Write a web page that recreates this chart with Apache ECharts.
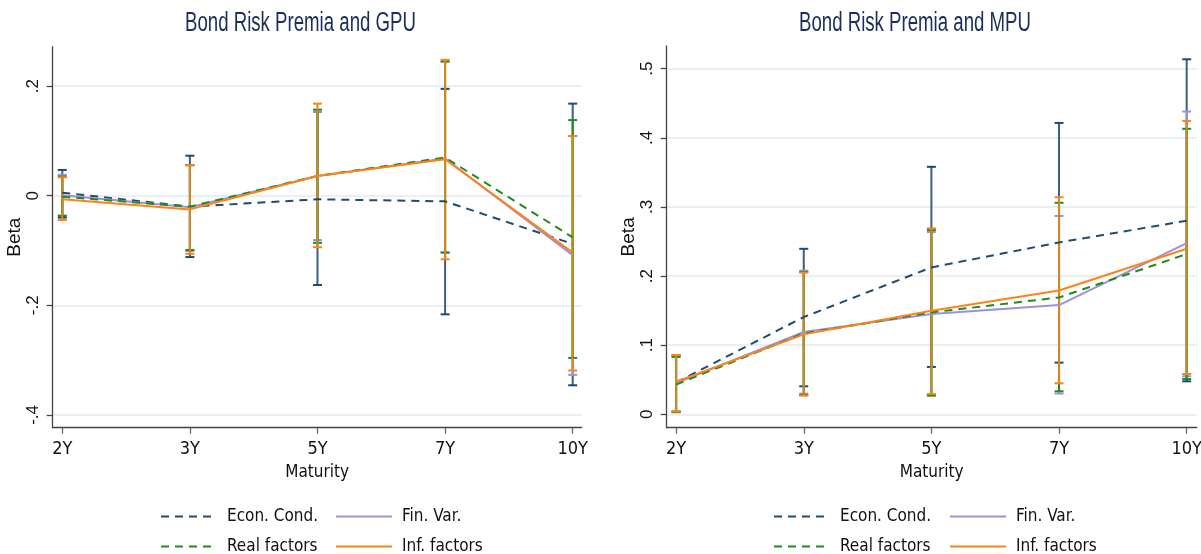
<!DOCTYPE html>
<html><head><meta charset="utf-8">
<script src="https://cdn.jsdelivr.net/npm/echarts@6/dist/echarts.min.js"></script>
<style>html,body{margin:0;padding:0;background:#fff}#c{width:1201px;height:554px}</style>
</head><body><div id="c"></div>
<script>
const maturities = ['2Y','3Y','5Y','7Y','10Y'];
const seriesNames = ['Econ. Cond.','Fin. Var.','Real factors','Inf. factors'];
const titles = ['Bond Risk Premia and GPU','Bond Risk Premia and MPU'];
const gpuTicks = [-0.4,-0.2,0,0.2];
const mpuTicks = [0,0.1,0.2,0.3,0.4,0.5];

// GPU panel
const gpuEcon   = [0.0055,-0.020,-0.0066,-0.0103,-0.088];
const gpuEconLo = [-0.040,-0.112,-0.163,-0.2165,-0.346];
const gpuEconHi = [0.047,0.073,0.153,0.195,0.168];
const gpuFin    = [0.001,-0.021,0.036,0.068,-0.1085];
const gpuFinLo  = [-0.036,-0.101,-0.081,-0.104,-0.327];
const gpuFinHi  = [0.038,0.056,0.153,0.245,0.109];
const gpuReal   = [-0.002,-0.020,0.036,0.0696,-0.076];
const gpuRealLo = [-0.037,-0.099,-0.086,-0.1036,-0.296];
const gpuRealHi = [0.035,0.0556,0.157,0.245,0.138];
const gpuInf    = [-0.0066,-0.025,0.036,0.0666,-0.104];
const gpuInfLo  = [-0.0445,-0.106,-0.094,-0.116,-0.319];
const gpuInfHi  = [0.0336,0.0556,0.168,0.248,0.1087];

// MPU panel
const mpuEcon   = [0.046,0.1407,0.2125,0.2486,0.280];
const mpuEconLo = [0.004,0.0405,0.0685,0.0747,0.0477];
const mpuEconHi = [0.085,0.2394,0.358,0.4215,0.5136];
const mpuFin    = [0.045,0.119,0.145,0.158,0.2477];
const mpuFinLo  = [0.004,0.0299,0.028,0.030,0.055];
const mpuFinHi  = [0.085,0.2077,0.2636,0.287,0.438];
const mpuReal   = [0.043,0.117,0.1474,0.169,0.2318];
const mpuRealLo = [0.003,0.028,0.027,0.0333,0.051];
const mpuRealHi = [0.083,0.206,0.2665,0.306,0.413];
const mpuInf    = [0.047,0.1156,0.1499,0.179,0.2394];
const mpuInfLo  = [0.004,0.027,0.0294,0.0448,0.0583];
const mpuInfHi  = [0.0858,0.205,0.269,0.314,0.4244];

const NARROW = "'DejaVu Sans Condensed','Liberation Sans Narrow',sans-serif";
const SANS = "'Liberation Sans',Arial,sans-serif";
const colors = ['#1f4a72','#9b91dd','#1e8c1e','#ff8217'];
const barColors = ['#3a5f85','#9b91dd','#1e8c1e','#d38a1c'];
const dashed = [true,false,true,false];

function fmtTick(v){ if (v===0) return '0'; return String(Math.round(v*10)/10).replace('0.','.'); }

function errRender(capColor, lineColor){
  return function(params, api){
    const x = api.value(0);
    const lo = api.coord([x, api.value(1)]);
    const hi = api.coord([x, api.value(2)]);
    const w = 4.5;
    const st = {stroke: capColor, lineWidth: 2};
    return {type:'group', children:[
      {type:'line', shape:{x1:lo[0],y1:lo[1],x2:hi[0],y2:hi[1]}, style:{stroke:lineColor,lineWidth:2}},
      {type:'line', shape:{x1:lo[0]-w,y1:lo[1],x2:lo[0]+w,y2:lo[1]}, style:st},
      {type:'line', shape:{x1:hi[0]-w,y1:hi[1],x2:hi[0]+w,y2:hi[1]}, style:st}
    ]};
  };
}

const panels = [
  {mid:[gpuEcon,gpuFin,gpuReal,gpuInf], lo:[gpuEconLo,gpuFinLo,gpuRealLo,gpuInfLo], hi:[gpuEconHi,gpuFinHi,gpuRealHi,gpuInfHi]},
  {mid:[mpuEcon,mpuFin,mpuReal,mpuInf], lo:[mpuEconLo,mpuFinLo,mpuRealLo,mpuInfLo], hi:[mpuEconHi,mpuFinHi,mpuRealHi,mpuInfHi]}
];

const series = [];
panels.forEach((p, gi) => {
  for (let k=0;k<4;k++){
    series.push({
      type:'custom', name:'err'+gi+k, xAxisIndex:gi, yAxisIndex:gi,
      renderItem: errRender(colors[k], barColors[k]),
      encode:{x:0, y:[1,2]},
      data: maturities.map((m,i)=>[i, p.lo[k][i], p.hi[k][i]]),
      silent:true, z:2
    });
  }
  for (let k=0;k<4;k++){
    series.push({
      type:'line', name:seriesNames[k], xAxisIndex:gi, yAxisIndex:gi,
      data: maturities.map((m,i)=>[i, p.mid[k][i]]),
      symbol:'none', color:colors[k],
      lineStyle:{color:colors[k], width:2, type: dashed[k] ? [8,6] : 'solid'},
      z:3
    });
  }
});

function xAx(gi, min, max){
  return {
    type:'value', gridIndex:gi, min:min, max:max,
    name:'Maturity', nameLocation:'middle', nameGap:36,
    nameTextStyle:{fontFamily:NARROW, fontSize:17, color:'#111'},
    axisLine:{show:true, onZero:false, lineStyle:{color:'#444', width:1.3}},
    axisTick:{show:true, length:6, customValues:[0,1,2,3,4], lineStyle:{color:'#666', width:1.3}},
    axisLabel:{customValues:[0,1,2,3,4], formatter:v=>maturities[Math.round(v)], margin:13,
      alignMinLabel:'center', alignMaxLabel:'center', hideOverlap:false,
      fontFamily:NARROW, fontSize:18, color:'#111'},
    splitLine:{show:false}
  };
}
function yAx(gi, min, max, ticks){
  return {
    type:'value', gridIndex:gi, min:min, max:max,
    name:'Beta', nameLocation:'middle', nameGap:26, nameRotate:90,
    nameTextStyle:{fontFamily:SANS, fontSize:19, color:'#111'},
    axisLine:{show:true, onZero:false, lineStyle:{color:'#444', width:1.3}},
    axisTick:{show:true, length:6, customValues:ticks, lineStyle:{color:'#444', width:1.3}},
    axisLabel:{customValues:ticks, formatter:fmtTick, rotate:90, margin:11,
      fontFamily:SANS, fontSize:17, color:'#111'},
    splitLine:{show:true, lineStyle:{color:'#e8f0f3', width:2}}
  };
}

function legendItem(left, top, name){
  return {
    orient:'horizontal', left:left, top:top, padding:0, itemWidth:56, itemHeight:14,
    data:[name], selectedMode:false,
    itemStyle:{opacity:0},
    textStyle:{fontFamily:NARROW, fontSize:17, color:'#111', padding:[0,0,0,5]}
  };
}

const legends = [];
[[160,335],[773,949]].forEach(cols => {
  legends.push(legendItem(cols[0], 508, seriesNames[0]));
  legends.push(legendItem(cols[0], 538, seriesNames[2]));
  legends.push(legendItem(cols[1], 508, seriesNames[1]));
  legends.push(legendItem(cols[1], 538, seriesNames[3]));
});

const option = {
  animation:false,
  backgroundColor:'#fff',
  graphic:[
    {type:'text', x:185, y:24, scaleX:0.69, scaleY:1,
     style:{text:titles[0], font:"normal 27px 'Liberation Sans',Arial,sans-serif", fill:'#1c2d59', textAlign:'left', textVerticalAlign:'middle'}},
    {type:'text', x:799, y:24, scaleX:0.69, scaleY:1,
     style:{text:titles[1], font:"normal 27px 'Liberation Sans',Arial,sans-serif", fill:'#1c2d59', textAlign:'left', textVerticalAlign:'middle'}}
  ],
  grid:[
    {left:52.7, top:46.7, width:529, height:381, outerBoundsMode:'none'},
    {left:666.7, top:46, width:530, height:381.7, outerBoundsMode:'none'}
  ],
  xAxis:[ xAx(0, -0.0752, 4.0706), xAx(1, -0.0737, 4.0785) ],
  yAxis:[ yAx(0, -0.4234, 0.2719, gpuTicks), yAx(1, -0.0194, 0.5328, mpuTicks) ],
  legend:legends,
  series:series
};

const chart = echarts.init(document.getElementById('c'), null, {renderer:'canvas'});
chart.setOption(option);
</script>
</body></html>
